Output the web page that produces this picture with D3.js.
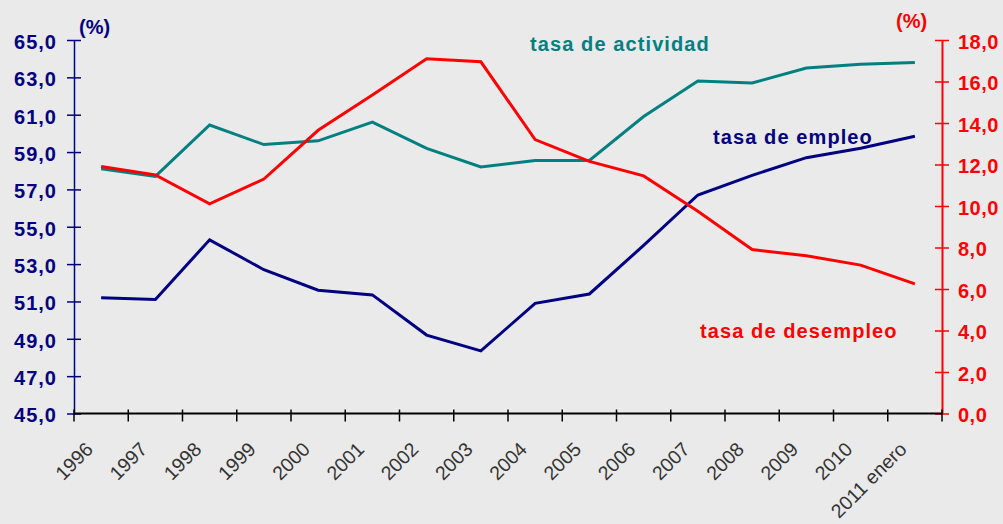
<!DOCTYPE html>
<html>
<head>
<meta charset="utf-8">
<script src="https://cdn.jsdelivr.net/npm/d3@7"></script>
<style>
  body { margin: 0; background: #eaeaea; }
  svg { display: block; font-family: "Liberation Sans", Arial, sans-serif; }
</style>
</head>
<body>
<div id="chart"></div>
<script>
// categories (x axis)
const years = ['1996', '1997', '1998', '1999', '2000', '2001', '2002', '2003',
  '2004', '2005', '2006', '2007', '2008', '2009', '2010', '2011 enero'];

// series, left axis (%)
const tasaActividad = [58.1, 57.7, 60.45, 59.4, 59.6, 60.6, 59.2, 58.2,
  58.55, 58.55, 60.9, 62.8, 62.7, 63.5, 63.7, 63.8];
const tasaEmpleo = [51.2, 51.1, 54.3, 52.7, 51.6, 51.35, 49.2, 48.35,
  50.9, 51.4, 54.0, 56.7, 57.75, 58.7, 59.2, 59.85];

// series, right axis (%)
const tasaDesempleo = [11.9, 11.5, 10.1, 11.3, 13.65, 15.35, 17.1, 16.95,
  13.2, 12.15, 11.45, 9.75, 7.9, 7.6, 7.15, 6.25];

// tick values
const leftTicks = d3.range(45, 66, 2);
const rightTicks = d3.range(0, 19, 2);

const width = 1003, height = 524;
const margin = { top: 40, right: 61, bottom: 110.5, left: 74 };

const svg = d3.select('#chart')
  .append('svg')
  .attr('width', width)
  .attr('height', height)
  .style('background-color', '#eaeaea');

const x = d3.scaleBand()
  .domain(years)
  .range([margin.left, width - margin.right])
  .padding(0);

const yL = d3.scaleLinear()
  .domain([45, 65])
  .range([height - margin.bottom, margin.top]);

const yR = d3.scaleLinear()
  .domain([0, 18])
  .range([height - margin.bottom, margin.top]);

const fmt = d => d3.format('.1f')(d).replace('.', ',');
const cx = (d, i) => x(years[i]) + x.bandwidth() / 2;

// left axis
const gL = svg.append('g')
  .attr('transform', `translate(${margin.left},0)`)
  .call(d3.axisLeft(yL).tickValues(leftTicks).tickFormat(fmt).tickSizeInner(7).tickSizeOuter(0));
gL.select('.domain').attr('stroke', '#000080').attr('stroke-width', 1.5);
gL.selectAll('.tick line').attr('stroke', '#000080').attr('stroke-width', 1.5).attr('x2', 7).attr('x1', -7);
gL.selectAll('.tick text')
  .attr('x', -17)
  .attr('dy', '0.42em')
  .attr('fill', '#000080')
  .style('font-size', '20px')
  .style('font-weight', 'bold')
  .style('letter-spacing', '1px');

// right axis
const gR = svg.append('g')
  .attr('transform', `translate(${width - margin.right},0)`)
  .call(d3.axisRight(yR).tickValues(rightTicks).tickFormat(fmt).tickSizeInner(7).tickSizeOuter(0));
gR.select('.domain').attr('stroke', '#ff0000').attr('stroke-width', 2);
gR.selectAll('.tick line').attr('stroke', '#ff0000').attr('stroke-width', 1.5).attr('x1', -7).attr('x2', 7);
gR.selectAll('.tick text')
  .attr('x', 16)
  .attr('dy', '0.42em')
  .attr('fill', '#ff0000')
  .style('font-size', '20px')
  .style('font-weight', 'bold')
  .style('letter-spacing', '0.5px');

// bottom axis: ticks on band boundaries
const bounds = years.map(d => x(d)).concat([x(years[years.length - 1]) + x.bandwidth()]);
const gB = svg.append('g')
  .attr('transform', `translate(0,${height - margin.bottom})`);
gB.append('line')
  .attr('x1', margin.left).attr('x2', width - margin.right)
  .attr('stroke', '#000').attr('stroke-width', 2);
gB.selectAll('line.tk')
  .data(bounds)
  .enter()
  .append('line')
  .attr('class', 'tk')
  .attr('x1', d => d).attr('x2', d => d)
  .attr('y1', -4).attr('y2', 8)
  .attr('stroke', '#000').attr('stroke-width', 1.5);
gB.selectAll('text')
  .data(years)
  .enter()
  .append('text')
  .attr('transform', d => `translate(${x(d) + x.bandwidth() / 2 - 7},${37}) rotate(-45)`)
  .attr('text-anchor', 'end')
  .attr('fill', '#333')
  .style('font-size', '19.5px')
  .text(d => d);

// lines
const lineL = d3.line().x(cx).y(d => yL(d));
const lineR = d3.line().x(cx).y(d => yR(d));

svg.append('path').datum(tasaActividad)
  .attr('d', lineL).attr('fill', 'none')
  .attr('stroke', '#008080').attr('stroke-width', 3);
svg.append('path').datum(tasaEmpleo)
  .attr('d', lineL).attr('fill', 'none')
  .attr('stroke', '#000080').attr('stroke-width', 3);
svg.append('path').datum(tasaDesempleo)
  .attr('d', lineR).attr('fill', 'none')
  .attr('stroke', '#ff0000').attr('stroke-width', 3);

// units
svg.append('text').attr('x', 79).attr('y', 34)
  .attr('fill', '#000080').style('font-size', '20px').style('font-weight', 'bold')
  .text('(%)');
svg.append('text').attr('x', 896).attr('y', 28)
  .attr('fill', '#ff0000').style('font-size', '20px').style('font-weight', 'bold')
  .text('(%)');

// series labels
const labels = [
  { t: 'tasa de actividad', x: 530, y: 51, c: '#008080' },
  { t: 'tasa de empleo', x: 713, y: 144, c: '#000080' },
  { t: 'tasa de desempleo', x: 700, y: 338, c: '#ff0000' }
];
svg.selectAll('text.lbl')
  .data(labels)
  .enter()
  .append('text')
  .attr('class', 'lbl')
  .attr('x', d => d.x).attr('y', d => d.y)
  .attr('fill', d => d.c)
  .style('font-size', '20px')
  .style('font-weight', 'bold')
  .style('letter-spacing', '1.1px')
  .text(d => d.t);
</script>
</body>
</html>
